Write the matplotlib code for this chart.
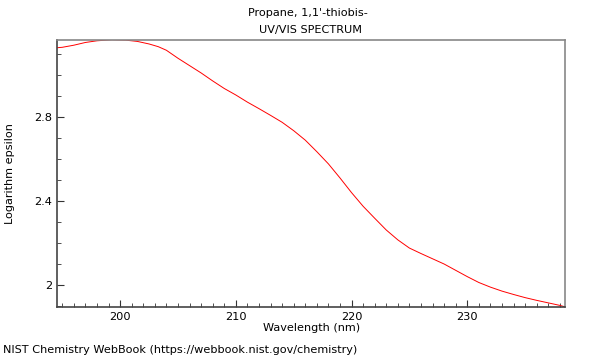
import matplotlib
matplotlib.use("Agg")
import matplotlib.pyplot as plt
from matplotlib.ticker import MultipleLocator

wavelength = [194.55, 195, 196, 197, 198, 199.3, 200.5, 201.5, 202.5, 203.3, 204, 205,
              206, 207, 208, 209, 210, 211, 212, 213, 214, 215, 216, 217, 218,
              219, 220, 221, 222, 223, 224, 225, 226, 227, 228, 229, 230, 231,
              232, 233, 234, 235, 236, 237, 238, 238.46]
log_eps = [3.130, 3.132, 3.142, 3.155, 3.163, 3.168, 3.166, 3.160, 3.148, 3.135,
           3.118, 3.080, 3.045, 3.010, 2.972, 2.936, 2.905, 2.871, 2.840, 2.808,
           2.775, 2.735, 2.690, 2.635, 2.577, 2.510, 2.440, 2.375, 2.318, 2.262,
           2.215, 2.176, 2.150, 2.125, 2.100, 2.070, 2.040, 2.012, 1.990, 1.971,
           1.955, 1.940, 1.927, 1.915, 1.903, 1.896]

fig = plt.figure(figsize=(6, 3.6), dpi=100)
ax = fig.add_axes([0.095, 0.147, 0.847, 0.742])
ax.plot(wavelength, log_eps, color='red', linewidth=0.7)
ax.set_xlim(194.55, 238.46)
ax.set_ylim(1.895, 3.167)

ax.xaxis.set_major_locator(MultipleLocator(10))
ax.xaxis.set_minor_locator(MultipleLocator(1))
ax.yaxis.set_major_locator(MultipleLocator(0.4))
ax.yaxis.set_minor_locator(MultipleLocator(0.1))
ax.yaxis.set_major_formatter(plt.FuncFormatter(lambda v, p: f"{v:g}"))
ax.tick_params(which='both', direction='in', labelsize=8.2, color='#333333')
ax.tick_params(which='major', length=5)
ax.tick_params(which='minor', length=3)
for s in ax.spines.values():
    s.set_color('#888888')
    s.set_linewidth(1.2)
ax.spines['left'].set_color('#444444')
ax.spines['bottom'].set_color('#444444')

ax.set_xlabel('Wavelength (nm)', fontsize=8.1, labelpad=1)
ax.set_ylabel('Logarithm epsilon', fontsize=8.1, labelpad=14)
fig.text(0.513, 1 - 13 / 360, "Propane, 1,1'-thiobis-", fontsize=8.1,
         ha='center', va='center')
fig.text(0.518, 1 - 30 / 360, "UV/VIS SPECTRUM", fontsize=8.1,
         ha='center', va='center')
fig.text(0.005, 0.02, 'NIST Chemistry WebBook (https://webbook.nist.gov/chemistry)',
         fontsize=8.1)

plt.savefig("out.png", dpi=100)
